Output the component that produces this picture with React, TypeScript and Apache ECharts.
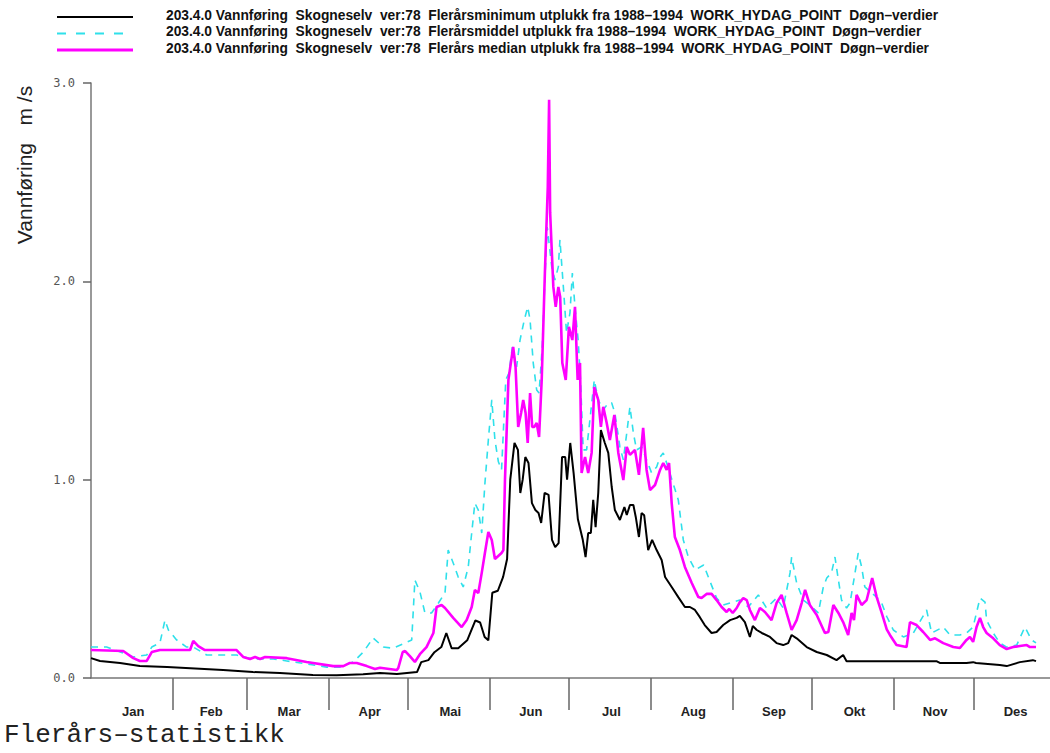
import React, { useEffect, useRef } from "react";
import * as echarts from "echarts";

// ---- categories / ticks ----
const monthNames = ["Jan", "Feb", "Mar", "Apr", "Mai", "Jun", "Jul", "Aug", "Sep", "Okt", "Nov", "Des"];
const monthBoundaries = [31, 59, 90, 120, 151, 181, 212, 243, 273, 304, 334];
const monthMidDays = [16, 45.5, 75, 105.5, 136, 166.5, 197, 228, 258.5, 289, 319.5, 350];
const yTickValues = [0, 1, 2, 3];

// ---- legend texts ----
const seriesNames = [
  "203.4.0 Vannføring\u00a0 Skogneselv\u00a0 ver:78\u00a0 Flerårsminimum utplukk fra 1988–1994\u00a0 WORK_HYDAG_POINT\u00a0 Døgn–verdier",
  "203.4.0 Vannføring\u00a0 Skogneselv\u00a0 ver:78\u00a0 Flerårsmiddel utplukk fra 1988–1994\u00a0 WORK_HYDAG_POINT\u00a0 Døgn–verdier",
  "203.4.0 Vannføring\u00a0 Skogneselv\u00a0 ver:78\u00a0 Flerårs median utplukk fra 1988–1994\u00a0 WORK_HYDAG_POINT\u00a0 Døgn–verdier",
];
const yAxisTitle = "Vannføring\u00a0\u00a0\u00a0m\u00a0/s";
const footerTitle = "Flerårs–statistikk";

// ---- series values: [day of year, m3/s] ----
const minimumFlow = [
  [0, 0.1], [3.4, 0.086], [11, 0.076], [18.5, 0.06], [28.8, 0.055], [50, 0.04], [61.3, 0.03], [71.5, 0.025],
  [84, 0.015], [93, 0.014], [103, 0.019], [109.4, 0.025], [115.8, 0.02], [123.4, 0.03], [125, 0.08], [127.7, 0.09],
  [130, 0.13], [132.6, 0.156], [134.5, 0.227], [136.5, 0.15], [139, 0.15], [142.4, 0.19], [145.5, 0.29], [147.3, 0.28],
  [149, 0.207], [150.4, 0.19], [151.9, 0.43], [154, 0.44], [156, 0.51], [157.5, 0.6], [158.7, 1.0], [160.3, 1.185],
  [161.6, 1.15], [162.5, 0.933], [163.4, 1.0], [164.4, 1.114], [165.6, 1.084], [166.9, 0.882], [168.2, 0.847],
  [169.4, 0.832], [170.4, 0.782], [171.7, 0.933], [173.2, 0.923], [174.5, 0.696], [175.7, 0.66], [177, 0.68],
  [178.3, 1.114], [179.5, 1.114], [180.2, 1.0], [181.4, 1.185], [182.7, 1.03], [184.3, 0.8], [186.1, 0.7],
  [187.2, 0.61], [188.2, 0.731], [189.2, 0.731], [190.1, 0.898], [191, 0.761], [192, 0.933], [193, 1.25],
  [194.5, 1.185], [195.8, 1.135], [197.1, 0.963], [198.3, 0.847], [200.2, 0.797], [201.9, 0.862], [202.8, 0.822],
  [204, 0.872], [205.3, 0.872], [206.2, 0.812], [207.4, 0.711], [208.4, 0.832], [209.4, 0.82], [210.9, 0.645],
  [212.4, 0.696], [214.1, 0.645], [216, 0.595], [217.3, 0.509], [219.8, 0.459], [222.3, 0.408], [224.8, 0.358],
  [226.7, 0.358], [228.6, 0.343], [230.4, 0.308], [232.3, 0.267], [234.9, 0.227], [236.8, 0.232], [239.3, 0.267],
  [241.9, 0.292], [244.4, 0.303], [245.6, 0.313], [247.5, 0.282], [249.4, 0.207], [250.5, 0.262], [252, 0.242],
  [253.9, 0.227], [257, 0.207], [259.5, 0.176], [262, 0.166], [263.9, 0.176], [265.2, 0.217], [267.1, 0.2],
  [270.9, 0.156], [274.7, 0.131], [278.5, 0.116], [282.2, 0.09], [284.7, 0.116], [286, 0.085], [320, 0.085],
  [321.3, 0.076], [331.4, 0.076], [333.9, 0.08], [335, 0.076], [344, 0.066], [346.6, 0.06], [351.6, 0.08],
  [356.5, 0.09], [357.7, 0.085],
];

const meanFlow = [
  [0, 0.156], [5.9, 0.156], [12.2, 0.126], [16, 0.106], [21.1, 0.116], [23, 0.156], [26.1, 0.177], [28, 0.292],
  [29.3, 0.242], [32.4, 0.192], [36.2, 0.156], [38.7, 0.156], [43.8, 0.116], [48.8, 0.116], [55.1, 0.116],
  [57.6, 0.106], [61.4, 0.096], [69, 0.096], [74.1, 0.086], [81.6, 0.071], [89.2, 0.055], [94.2, 0.055],
  [99.3, 0.081], [103.1, 0.131], [106.8, 0.202], [110.6, 0.156], [114.4, 0.15], [118.9, 0.177], [121.4, 0.192],
  [122.6, 0.494], [124.5, 0.435], [126.4, 0.328], [128.9, 0.328], [131.5, 0.378], [134, 0.429], [135.2, 0.645],
  [137.1, 0.58], [139, 0.509], [140.9, 0.459], [142.8, 0.56], [144.1, 0.731], [145.3, 0.882], [146.6, 0.847],
  [147.9, 0.731], [149.1, 0.98], [150.4, 1.2], [151.7, 1.402], [152.9, 1.2], [154.2, 1.09], [155.4, 1.05],
  [157, 1.503], [158.2, 1.538], [159.5, 1.669], [161.1, 1.568], [162.4, 1.704], [164, 1.805], [165.3, 1.871],
  [166.2, 1.805], [167.4, 1.588], [168.7, 1.452], [169.6, 1.437], [170.8, 1.669], [171.8, 2.007], [172.7, 2.274],
  [174.4, 2.073], [175.6, 2.007], [176.9, 2.073], [177.5, 2.209], [178.8, 1.972], [180, 1.74], [181.3, 1.841],
  [182.2, 2.042], [183.2, 1.871], [184.4, 1.704], [185.3, 1.5], [186.3, 1.15], [187.6, 1.15], [190.5, 1.503],
  [192, 1.402], [193.9, 1.351], [195.8, 1.387], [197.1, 1.387], [198.3, 1.336], [200.2, 1.165], [201.5, 1.1],
  [202.8, 1.236], [204, 1.367], [205.3, 1.236], [206.5, 1.15], [208.4, 1.165], [210.3, 1.1], [212.2, 1.034],
  [214.1, 1.064], [215.4, 1.114], [216.6, 1.135], [217.9, 1.084], [222.3, 0.898], [224.2, 0.696], [226.1, 0.61],
  [228.7, 0.545], [231.9, 0.57], [234.4, 0.484], [236.8, 0.403], [239.3, 0.368], [243.1, 0.383], [245.6, 0.393],
  [248.8, 0.358], [252.6, 0.419], [255.7, 0.353], [259.5, 0.403], [262, 0.353], [264.6, 0.53], [265.2, 0.61],
  [267.1, 0.479], [269.6, 0.393], [272.1, 0.368], [275.3, 0.328], [277.2, 0.459], [278.5, 0.504], [280.3, 0.53],
  [281.6, 0.61], [282.9, 0.494], [284.1, 0.393], [286, 0.353], [287.3, 0.378], [289.2, 0.53], [290.4, 0.63],
  [291.7, 0.56], [292.9, 0.459], [295.5, 0.429], [297.4, 0.408], [299.3, 0.378], [301.2, 0.31], [303.7, 0.242],
  [307.5, 0.207], [311.3, 0.227], [316.3, 0.343], [318.2, 0.227], [322.6, 0.257], [325.1, 0.217], [328.9, 0.217],
  [331.4, 0.227], [333.9, 0.257], [336.5, 0.403], [338.4, 0.383], [339, 0.292], [341.5, 0.227], [344, 0.177],
  [346.6, 0.156], [350.4, 0.166], [353.5, 0.257], [356, 0.192], [357.7, 0.177],
];

const medianFlow = [
  [0, 0.141], [12.2, 0.136], [16, 0.1], [18.5, 0.086], [21.1, 0.086], [23, 0.131], [26.1, 0.141], [28.7, 0.141],
  [37.5, 0.141], [38.7, 0.187], [40.6, 0.161], [43.1, 0.141], [55.1, 0.141], [57.6, 0.106], [60.2, 0.096],
  [62.1, 0.106], [64, 0.096], [65.9, 0.106], [74.1, 0.1], [81.6, 0.081], [91.7, 0.06], [95.5, 0.06], [98, 0.076],
  [100.6, 0.076], [104.4, 0.06], [107.5, 0.045], [109.4, 0.052], [115.7, 0.04], [116.3, 0.05], [118, 0.131],
  [118.9, 0.136], [120.7, 0.11], [122, 0.09], [122.6, 0.081], [124.5, 0.12], [127, 0.156], [129.6, 0.227],
  [130.8, 0.358], [132.7, 0.368], [134, 0.353], [137.1, 0.303], [140.3, 0.257], [142.2, 0.292], [144.1, 0.358],
  [145.3, 0.444], [146.6, 0.429], [147.9, 0.53], [149.1, 0.63], [150.4, 0.736], [151.7, 0.696], [152.9, 0.6],
  [155.4, 0.63], [156.1, 0.645], [156.7, 1.0], [158, 1.503], [159.8, 1.669], [160.7, 1.568], [161.7, 1.266],
  [162.8, 1.336], [163.6, 1.402], [164.5, 1.336], [165.3, 1.185], [166.2, 1.437], [167, 1.266], [167.8, 1.266],
  [168.7, 1.286], [169.6, 1.215], [170.6, 1.503], [171.8, 2.042], [172.9, 2.476], [173.4, 2.915], [173.8, 2.345],
  [175, 1.972], [175.9, 1.871], [176.9, 1.972], [177.6, 1.921], [178.4, 1.588], [179.7, 1.503], [180.9, 1.77],
  [182.2, 1.704], [183.2, 1.871], [184.2, 1.503], [185.1, 1.588], [185.7, 1.034], [187, 1.114], [188.2, 1.034],
  [189.5, 1.135], [190.5, 1.467], [192, 1.402], [193, 1.266], [193.9, 1.367], [195.2, 1.286], [196.4, 1.2],
  [198.1, 1.326], [199.6, 1.135], [201.5, 0.998], [202.8, 1.165], [204, 1.125], [205.9, 1.15], [207.4, 1.024],
  [209, 1.261], [210.3, 1.049], [211.6, 0.948], [213.5, 0.973], [215.4, 1.049], [216.6, 1.084], [217.9, 1.049],
  [218.8, 1.084], [219.8, 0.882], [221, 0.711], [222.9, 0.645], [224.8, 0.56], [227.4, 0.479], [229.9, 0.408],
  [231.1, 0.403], [233, 0.424], [234.9, 0.424], [236.8, 0.393], [238.7, 0.358], [240.6, 0.333], [241.6, 0.348],
  [242.9, 0.328], [244.4, 0.353], [245.6, 0.383], [246.9, 0.403], [248.2, 0.393], [249.4, 0.343], [251.3, 0.292],
  [253.2, 0.353], [255.1, 0.333], [257.6, 0.292], [259.5, 0.378], [261.4, 0.419], [263.3, 0.328], [265.2, 0.242],
  [267.1, 0.292], [269, 0.378], [270.3, 0.444], [272.1, 0.368], [274.7, 0.318], [277.8, 0.227], [279.1, 0.232],
  [281, 0.368], [282.9, 0.328], [284.7, 0.282], [286.6, 0.217], [287.9, 0.328], [288.8, 0.292], [289.8, 0.419],
  [291.7, 0.368], [293.6, 0.393], [295.7, 0.504], [297.4, 0.408], [299.3, 0.328], [301.2, 0.245], [302.4, 0.217],
  [304.9, 0.166], [308.7, 0.156], [310, 0.282], [312.5, 0.267], [315, 0.232], [317.6, 0.192], [319.5, 0.2],
  [322.6, 0.176], [326.4, 0.156], [328.9, 0.151], [331.4, 0.192], [332.7, 0.207], [333.9, 0.182], [335.2, 0.257],
  [336.5, 0.303], [337.7, 0.257], [339, 0.227], [341.5, 0.2], [344, 0.166], [346.6, 0.146], [349.1, 0.156],
  [351.6, 0.161], [354.2, 0.166], [355.4, 0.156], [357.7, 0.156],
];

const seriesColors = ["#000000", "#2fe0ea", "#ff00ff"];
const seriesWidths = [2, 1.6, 2.6];

export default function App() {
  const ref = useRef<HTMLDivElement>(null);

  useEffect(() => {
    if (!ref.current) return;
    const chart = echarts.init(ref.current, null, { renderer: "svg" });
    const dataSets = [minimumFlow, meanFlow, medianFlow];
    const legendY = [17, 33.5, 50];

    const graphics: any[] = [];
    seriesNames.forEach((name, i) => {
      graphics.push({
        type: "line",
        shape: { x1: 57, y1: legendY[i], x2: 133, y2: legendY[i] },
        style: {
          stroke: seriesColors[i],
          lineWidth: i === 2 ? 3 : 2,
          lineDash: i === 1 ? [9, 10] : null,
        },
        silent: true,
      });
      graphics.push({
        type: "text",
        x: 166,
        y: legendY[i] - 2,
        style: {
          text: name,
          fontFamily: '"Liberation Sans", Arial, sans-serif',
          fontWeight: "bold",
          fontSize: 13.8,
          fill: "#111",
          align: "left",
          verticalAlign: "middle",
        },
        silent: true,
      });
    });
    graphics.push({
      type: "text",
      x: 24,
      y: 165,
      rotation: Math.PI / 2,
      style: {
        text: yAxisTitle,
        fontFamily: '"Liberation Sans", Arial, sans-serif',
        fontSize: 21,
        fill: "#222",
        align: "center",
        verticalAlign: "middle",
      },
      silent: true,
    });
    graphics.push({
      type: "text",
      x: 4,
      y: 735,
      style: {
        text: footerTitle,
        fontFamily: '"Liberation Mono", "DejaVu Sans Mono", monospace',
        fontSize: 26,
        fill: "#222",
        align: "left",
        verticalAlign: "middle",
      },
      silent: true,
    });

    chart.setOption({
      animation: false,
      backgroundColor: "#ffffff",
      grid: { left: 91, right: 0, top: 83, bottom: 75, containLabel: false },
      xAxis: {
        type: "value",
        min: 0,
        max: 363,
        splitLine: { show: false },
        axisLine: { show: true, lineStyle: { color: "#777", width: 1.5 } },
        axisTick: {
          show: true,
          customValues: monthBoundaries,
          length: 32,
          inside: false,
          lineStyle: { color: "#666", width: 1.5 },
        },
        axisLabel: {
          show: true,
          customValues: monthMidDays,
          margin: 27,
          fontFamily: '"Liberation Sans", Arial, sans-serif',
          fontWeight: "bold",
          fontSize: 13,
          color: "#222",
          formatter: (v: number) => {
            let best = 0;
            monthMidDays.forEach((d, i) => {
              if (Math.abs(d - v) < Math.abs(monthMidDays[best] - v)) best = i;
            });
            return monthNames[best];
          },
        },
      },
      yAxis: {
        type: "value",
        min: yTickValues[0],
        max: yTickValues[yTickValues.length - 1],
        interval: 1,
        splitLine: { show: false },
        axisLine: { show: true, lineStyle: { color: "#777", width: 1.5 } },
        axisTick: { show: true, length: 8, lineStyle: { color: "#666", width: 1.5 } },
        axisLabel: {
          margin: 16,
          fontFamily: '"DejaVu Sans Mono", monospace',
          fontSize: 12,
          color: "#555",
          formatter: (v: number) => v.toFixed(1),
        },
      },
      series: dataSets.map((d, i) => ({
        name: seriesNames[i],
        type: "line",
        data: d,
        showSymbol: false,
        symbol: "none",
        silent: true,
        z: 2 + i,
        lineStyle: {
          color: seriesColors[i],
          width: seriesWidths[i],
          type: i === 1 ? [7, 6] : "solid",
        },
      })),
      graphic: graphics,
    });
    return () => chart.dispose();
  }, []);

  return (
    <div
      ref={ref}
      style={{ position: "absolute", left: 0, top: 0, width: 1050, height: 753, background: "#fff" }}
    />
  );
}
